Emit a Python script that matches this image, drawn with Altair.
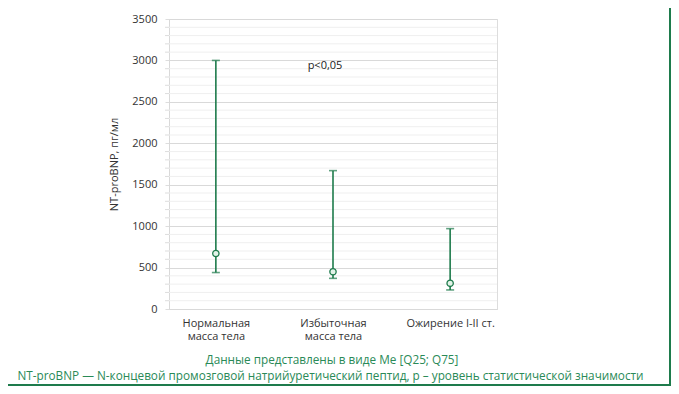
import altair as alt
import pandas as pd

categories = ["Нормальная|масса тела", "Избыточная|масса тела", "Ожирение I-II ст."]
q25 = [440, 370, 230]
median = [670, 450, 310]
q75 = [3000, 1670, 970]

y_major = [0, 500, 1000, 1500, 2000, 2500, 3000, 3500]
y_minor = [v for v in range(100, 3500, 100) if v % 500 != 0]
annotation = ["p<0,05"]
caption1 = ["Данные представлены в виде Me [Q25; Q75]"]
caption2 = ["NT-proBNP — N-концевой промозговой натрийуретический пептид, p – уровень статистической значимости"]

GREEN = "#1e7b4c"
TXT_GREEN = "#2a8a57"
FONT = "Open Sans"

df = pd.DataFrame({"cat": categories, "q25": q25, "med": median, "q75": q75})

W, H = 328, 290
PL, PT = 161, 11

y_scale = alt.Scale(domain=[0, 3500], nice=False, zero=True)
x_scale = alt.Scale(type="point", padding=0.4, domain=categories)

x_enc = alt.X("cat:N", sort=categories, scale=x_scale,
              axis=alt.Axis(title=None, labelAngle=0, ticks=False, domainColor="#d9d9d9",
                            labelExpr="split(datum.label, '|')", labelPadding=8,
                            labelFontSize=11, labelColor="#333333", labelFont=FONT,
                            labelLineHeight=13, labelBaseline="top"))
y_axis = alt.Axis(title="NT-proBNP, пг/мл", values=y_major, format="d",
                  labelFontSize=11, labelColor="#333333", labelFont=FONT,
                  titleFont=FONT, titleFontSize=11, titleFontWeight="normal", titleColor="#333333",
                  titlePadding=12, gridColor="#d9d9d9",
                  tickColor="#dddddd", tickSize=4, labelPadding=8,
                  domainColor="#d9d9d9")

minor = alt.Chart(pd.DataFrame({"v": y_minor})).mark_rule(color="#efefef", strokeWidth=1).encode(
    y=alt.Y("v:Q", scale=y_scale, axis=y_axis))
minor_ticks = alt.Chart(pd.DataFrame({"v": y_minor})).mark_rule(color="#dddddd", strokeWidth=1).encode(
    y=alt.Y("v:Q", scale=y_scale), x=alt.value(-4), x2=alt.value(0))

base = alt.Chart(df)
rule = base.mark_rule(color=GREEN, strokeWidth=1.6).encode(
    x=x_enc, y=alt.Y("q25:Q", scale=y_scale), y2="q75:Q")
cap_lo = base.mark_tick(color=GREEN, size=8, thickness=1.6, orient="horizontal").encode(
    x=alt.X("cat:N", sort=categories, scale=x_scale), y=alt.Y("q25:Q", scale=y_scale))
cap_hi = base.mark_tick(color=GREEN, size=8, thickness=1.6, orient="horizontal").encode(
    x=alt.X("cat:N", sort=categories, scale=x_scale), y=alt.Y("q75:Q", scale=y_scale))
med = base.mark_point(shape="circle", size=40, filled=True, fill="#e2f3e8", stroke=GREEN,
                      strokeWidth=1.3, opacity=1).encode(
    x=alt.X("cat:N", sort=categories, scale=x_scale), y=alt.Y("med:Q", scale=y_scale))

ann = alt.Chart(pd.DataFrame({"t": annotation})).mark_text(
    font=FONT, fontSize=11, color="#222222", align="center", baseline="middle").encode(
    text="t:N", x=alt.value(156), y=alt.value(47))

cap_a = alt.Chart(pd.DataFrame({"t": caption1})).mark_text(
    font=FONT, fontSize=11.75, color=TXT_GREEN, align="center", baseline="middle").encode(
    text="t:N", x=alt.value(163), y=alt.value(341))
cap_b = alt.Chart(pd.DataFrame({"t": caption2})).mark_text(
    font=FONT, fontSize=11.75, color=TXT_GREEN, align="center", baseline="middle").encode(
    text="t:N", x=alt.value(161.5), y=alt.value(357))

frame_r = alt.Chart(pd.DataFrame({"a": [0]})).mark_rule(color=GREEN, strokeWidth=2).encode(
    x=alt.value(501), y=alt.value(-PT), y2=alt.value(367))
frame_b = alt.Chart(pd.DataFrame({"a": [0]})).mark_rule(color=GREEN, strokeWidth=2).encode(
    x=alt.value(-PL), x2=alt.value(502), y=alt.value(366))

chart = alt.layer(minor, minor_ticks, rule, cap_lo, cap_hi, med, ann, cap_a, cap_b,
                  frame_r, frame_b).properties(
    width=W, height=H,
    padding={"left": PL, "top": PT, "right": 663 - PL - W, "bottom": 77},
    autosize=alt.AutoSizeParams(type="none"),
).configure_view(stroke=None).configure(background="white")

chart.save("out.html", embed_options={"renderer": "svg", "actions": False})
